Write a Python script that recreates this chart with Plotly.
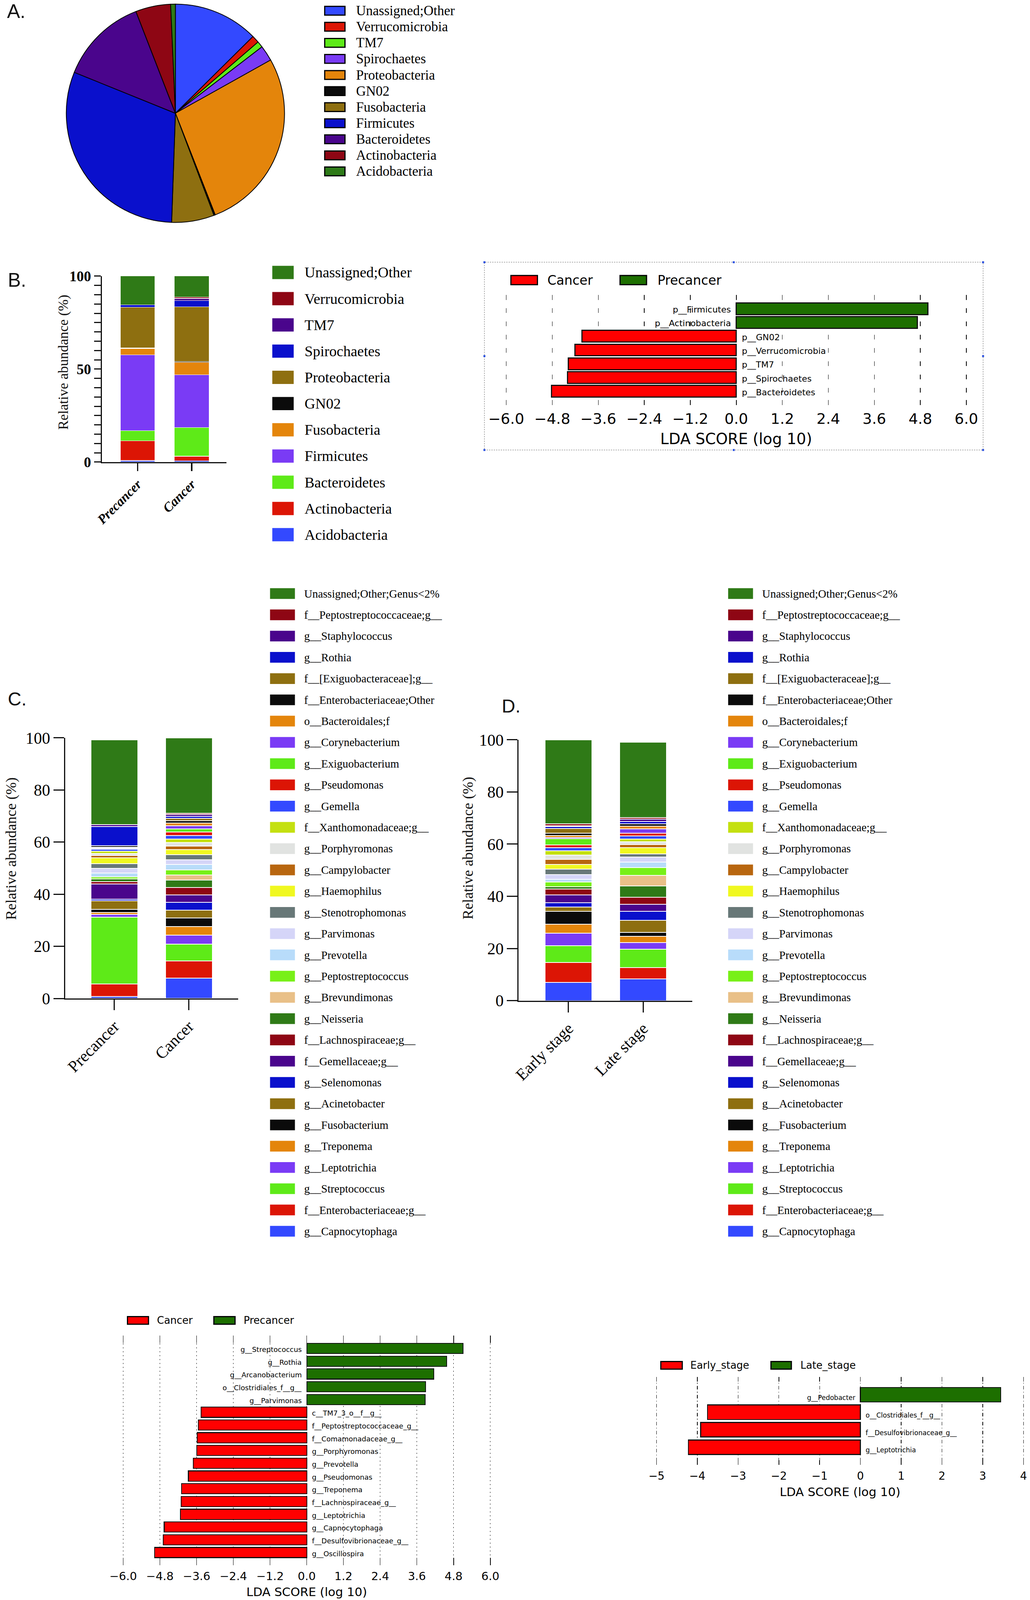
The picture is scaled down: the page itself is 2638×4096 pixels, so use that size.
import plotly.graph_objects as go

# ======================= DATA =======================
# Panel A (pie of phyla, % share)
pie_labels = ["Unassigned;Other", "Verrucomicrobia", "TM7", "Spirochaetes", "Proteobacteria",
              "GN02", "Fusobacteria", "Firmicutes", "Bacteroidetes", "Actinobacteria", "Acidobacteria"]
pie_values = [12.6, 1.1, 0.9, 2.3, 27.2, 0.2, 6.3, 30.6, 13.0, 5.2, 0.7]
pie_colors = ["#3349FF", "#DC1505", "#5EEA18", "#7A3BF5", "#E4850B",
              "#0B0B0B", "#8E6F10", "#0A10CC", "#4A058C", "#8E0614", "#2E7A18"]

# Panel B left: phylum stacked bars (bottom -> top)
phylum_groups = ["Precancer", "Cancer"]
phylum_stack = ["Acidobacteria", "Actinobacteria", "Bacteroidetes", "Firmicutes", "Fusobacteria",
                "GN02", "Proteobacteria", "Spirochaetes", "TM7", "Verrucomicrobia", "Unassigned;Other"]
phylum_colors = ["#3349FF", "#DC1505", "#5EEA18", "#7A3BF5", "#E4850B",
                 "#0B0B0B", "#8E6F10", "#0A10CC", "#4A058C", "#8E0614", "#2F7A17"]
phylum_precancer = [0.8, 10.6, 5.4, 40.9, 3.3, 0.3, 22.0, 1.2, 0.05, 0.05, 15.4]
phylum_cancer = [0.7, 2.4, 15.4, 28.4, 6.7, 0.4, 29.5, 3.4, 1.1, 0.7, 11.3]

# Panel B right: LEfSe phylum
lda_phylum_taxa = ["p__Firmicutes", "p__Actinobacteria", "p__GN02", "p__Verrucomicrobia",
                   "p__TM7", "p__Spirochaetes", "p__Bacteroidetes"]
lda_phylum_scores = [5.00, 4.72, -4.03, -4.21, -4.38, -4.40, -4.82]
lda_phylum_groups = ["Cancer", "Precancer"]

# Panels C / D: genus stacked bars (bottom -> top)
genus_stack = ["g__Capnocytophaga", "f__Enterobacteriaceae;g__", "g__Streptococcus", "g__Leptotrichia",
               "g__Treponema", "g__Fusobacterium", "g__Acinetobacter", "g__Selenomonas",
               "f__Gemellaceae;g__", "f__Lachnospiraceae;g__", "g__Neisseria", "g__Brevundimonas",
               "g__Peptostreptococcus", "g__Prevotella", "g__Parvimonas", "g__Stenotrophomonas",
               "g__Haemophilus", "g__Campylobacter", "g__Porphyromonas", "f__Xanthomonadaceae;g__",
               "g__Gemella", "g__Pseudomonas", "g__Exiguobacterium", "g__Corynebacterium",
               "o__Bacteroidales;f", "f__Enterobacteriaceae;Other", "f__[Exiguobacteraceae];g__",
               "g__Rothia", "g__Staphylococcus", "f__Peptostreptococcaceae;g__", "Unassigned;Other;Genus<2%"]
genus_colors = ["#3349FF", "#DC1505", "#5EEA18", "#7A3BF5",
                "#E4850B", "#0B0B0B", "#8E6F10", "#0A10CC",
                "#4A058C", "#8E0614", "#2F7A17", "#E9C088",
                "#78F018", "#B8DCFA", "#D5D5F8", "#687878",
                "#F0F820", "#B8660F", "#E1E3E1", "#C4E010",
                "#3349FF", "#DC1505", "#5EEA18", "#7A3BF5",
                "#E4850B", "#0B0B0B", "#8E6F10",
                "#0A10CC", "#4A058C", "#8E0614", "#2F7A17"]
genus_groups_c = ["Precancer", "Cancer"]
genus_precancer = [0.71, 4.88, 25.53, 1.10, 0.70, 1.34, 3.26, 0.55, 5.90, 0.93, 0.94, 0.05,
                   0.71, 1.49, 1.85, 1.81, 2.28, 0.78, 0.83, 0.90, 0.75, 0.35, 0.05, 0.05,
                   0.26, 0.56, 0.10, 7.32, 0.68, 0.10, 32.54]
genus_cancer = [7.75, 6.72, 6.33, 3.50, 3.22, 3.32, 3.07, 2.90, 2.91, 2.83, 2.83, 2.01,
                2.00, 1.97, 1.92, 1.89, 1.88, 1.42, 1.41, 1.34, 1.30, 1.29, 1.26, 1.14,
                1.06, 0.95, 0.86, 0.83, 0.66, 0.55, 28.88]
genus_groups_d = ["Early stage", "Late stage"]
genus_early = [6.95, 7.65, 6.51, 4.71, 3.42, 4.94, 1.65, 1.73, 2.90, 2.24, 0.97, 0.05,
               1.76, 1.06, 1.77, 2.08, 1.88, 1.85, 1.72, 1.65, 1.22, 0.98, 2.35, 0.51,
               0.75, 0.82, 1.81, 0.87, 0.30, 0.63, 32.27]
genus_late = [8.32, 4.32, 7.06, 2.55, 2.39, 1.57, 4.56, 3.45, 2.67, 2.67, 4.43, 3.96,
              3.03, 2.19, 1.89, 1.17, 2.40, 1.18, 1.02, 1.09, 1.18, 1.06, 0.05, 1.68,
              1.02, 0.86, 0.05, 0.85, 0.87, 0.62, 28.94]

# Bottom-left: LEfSe genus, Cancer vs Precancer
lda_genus_taxa = ["g__Streptococcus", "g__Rothia", "g__Arcanobacterium", "o__Clostridiales_f__g__",
                  "g__Parvimonas", "c__TM7_3_o__f__g__", "f__Peptostreptococcaceae_g__",
                  "f__Comamonadaceae_g__", "g__Porphyromonas", "g__Prevotella", "g__Pseudomonas",
                  "g__Treponema", "f__Lachnospiraceae_g__", "g__Leptotrichia", "g__Capnocytophaga",
                  "f__Desulfovibrionaceae_g__", "g__Oscillospira"]
lda_genus_scores = [5.11, 4.57, 4.15, 3.88, 3.87, -3.45, -3.54, -3.58, -3.59, -3.71, -3.87,
                    -4.09, -4.10, -4.13, -4.66, -4.69, -4.97]

# Bottom-right: LEfSe stage
lda_stage_taxa = ["g__Pedobacter", "o__Clostridiales_f__g__", "f__Desulfovibrionaceae_g__", "g__Leptotrichia"]
lda_stage_scores = [3.44, -3.75, -3.92, -4.22]
lda_stage_groups = ["Early_stage", "Late_stage"]

# ======================= LAYOUT HELPERS =======================
W, H = 2638, 4096
SW, SH = 1010.0, 1568.0   # reference preview coordinate frame


def fx(v):
    return v / SW


def fy(v):
    return 1 - v / SH


SERIF = "Liberation Serif"
SANS = "DejaVu Sans"
ARIAL = "Liberation Sans"
RED = "#FF0000"
GREEN = "#1D6F00"

fig = go.Figure()
shapes = []
annotations = []

# ---------------- Panel A: pie ----------------
fig.add_trace(go.Pie(labels=pie_labels, values=pie_values, sort=False, direction="clockwise",
                     rotation=0, textinfo="none", showlegend=False,
                     marker=dict(colors=pie_colors, line=dict(color="black", width=2)),
                     domain=dict(x=[fx(65), fx(279)], y=[fy(218), fy(4)])))


def legend_block(x0, x1, xt, y_first, step, sq_h, labels, colors, size, border=None, bw=0):
    for i, (lab, col) in enumerate(zip(labels, colors)):
        yc = y_first + i * step
        shapes.append(dict(type="rect", xref="paper", yref="paper",
                           x0=fx(x0), x1=fx(x1), y0=fy(yc + sq_h / 2), y1=fy(yc - sq_h / 2),
                           fillcolor=col, line=dict(color=border if border else col, width=bw if border else 0)))
        annotations.append(dict(xref="paper", yref="paper", x=fx(xt), y=fy(yc), text=lab,
                                showarrow=False, xanchor="left", yanchor="middle",
                                font=dict(family=SERIF, size=size, color="black")))


legend_block(318.4, 338.3, 348.5, 10.5, 15.75, 8.6, pie_labels, pie_colors, 35, border="black", bw=3)

# ---------------- Panel B left: phylum stacked bars ----------------
for name, col, a, b in zip(phylum_stack, phylum_colors, phylum_precancer, phylum_cancer):
    fig.add_trace(go.Bar(x=phylum_groups, y=[a, b], name=name, width=0.64, showlegend=False,
                         marker=dict(color=col, line=dict(color="white", width=1.2)),
                         xaxis="x", yaxis="y"))
legend_block(267, 288, 298, 267, 25.7, 13, phylum_stack[::-1], phylum_colors[::-1], 38)

# ---------------- Panels C and D ----------------
for name, col, a, b in zip(genus_stack, genus_colors, genus_precancer, genus_cancer):
    fig.add_trace(go.Bar(x=genus_groups_c, y=[a, b], name=name, width=0.63, showlegend=False,
                         marker=dict(color=col, line=dict(color="white", width=2)),
                         xaxis="x3", yaxis="y3"))
for name, col, a, b in zip(genus_stack, genus_colors, genus_early, genus_late):
    fig.add_trace(go.Bar(x=genus_groups_d, y=[a, b], name=name, width=0.63, showlegend=False,
                         marker=dict(color=col, line=dict(color="white", width=2)),
                         xaxis="x4", yaxis="y4"))
legend_block(264.8, 289.2, 297.4, 581.7, 20.83, 10.5, genus_stack[::-1], genus_colors[::-1], 29)
legend_block(714.0, 738.4, 746.6, 581.7, 20.83, 10.5, genus_stack[::-1], genus_colors[::-1], 29)


# ---------------- LDA panels ----------------
def add_lda(taxa, scores, ax, width, lw, label_size, shift, yshift):
    neg = [(t, s) for t, s in zip(taxa, scores) if s < 0]
    pos = [(t, s) for t, s in zip(taxa, scores) if s > 0]
    fig.add_trace(go.Bar(x=[s for _, s in neg], y=[t for t, _ in neg], orientation="h", width=width,
                         marker=dict(color=RED, line=dict(color="#111111", width=lw)),
                         showlegend=False, xaxis="x" + ax, yaxis="y" + ax))
    fig.add_trace(go.Bar(x=[s for _, s in pos], y=[t for t, _ in pos], orientation="h", width=width,
                         marker=dict(color=GREEN, line=dict(color="#111111", width=lw)),
                         showlegend=False, xaxis="x" + ax, yaxis="y" + ax))
    for t, s in zip(taxa, scores):
        annotations.append(dict(xref="x" + ax, yref="y" + ax, x=0, y=t, text=t, showarrow=False,
                                xanchor="right" if s > 0 else "left", yanchor="middle",
                                xshift=-shift if s > 0 else shift, yshift=yshift,
                                font=dict(family=SANS, size=label_size, color="black")))


add_lda(lda_phylum_taxa, lda_phylum_scores, "2", 0.84, 3, 22, 12, -3)
add_lda(lda_genus_taxa, lda_genus_scores, "5", 0.8, 2.2, 18, 11, -3)
add_lda(lda_stage_taxa, lda_stage_scores, "6", 0.825, 2.5, 17, 11, -8)


def lda_legend(x_red0, x_red1, x_t1, x_g0, x_g1, x_t2, yc, h, names, size):
    for (a, b, t, col, nm) in [(x_red0, x_red1, x_t1, RED, names[0]), (x_g0, x_g1, x_t2, GREEN, names[1])]:
        shapes.append(dict(type="rect", xref="paper", yref="paper", x0=fx(a), x1=fx(b),
                           y0=fy(yc + h / 2), y1=fy(yc - h / 2), fillcolor=col,
                           line=dict(color="black", width=3)))
        annotations.append(dict(xref="paper", yref="paper", x=fx(t), y=fy(yc), text=nm, showarrow=False,
                                xanchor="left", yanchor="middle",
                                font=dict(family=SANS, size=size, color="black")))


lda_legend(501, 527, 536, 608, 634, 644, 274.5, 9, lda_phylum_groups, 33)
lda_legend(125, 145.6, 153, 209.7, 230.5, 238, 1294, 7.4, ["Cancer", "Precancer"], 26)
lda_legend(648, 669, 676, 756, 776, 784, 1338, 7.5, lda_stage_groups, 26)

# dotted selection frame around the B LEfSe plot
shapes.append(dict(type="rect", xref="paper", yref="paper", x0=fx(475), x1=fx(964), y0=fy(441), y1=fy(257),
                   line=dict(color="#8A8A8A", width=1.5, dash="dot"), fillcolor="rgba(0,0,0,0)"))
for hx in (475, 719.5, 964):
    for hy in (257, 349, 441):
        if hx == 719.5 and hy == 349:
            continue
        shapes.append(dict(type="rect", xref="paper", yref="paper",
                           x0=fx(hx) - 2.5 / W, x1=fx(hx) + 2.5 / W, y0=fy(hy) - 2.5 / H, y1=fy(hy) + 2.5 / H,
                           fillcolor="#2A50E0", line=dict(width=0)))

# ---------------- text labels ----------------
for txt, x, y, size in [("A.", 16, 11, 50), ("B.", 16.5, 274.5, 50), ("C.", 17, 685, 48), ("D.", 501, 692, 48)]:
    annotations.append(dict(xref="paper", yref="paper", x=fx(x), y=fy(y), text=txt, showarrow=False,
                            xanchor="center", yanchor="middle",
                            font=dict(family=ARIAL, size=size, color="#111111")))

for x, y, size in [(62, 355, 36), (11, 831.6, 38), (459, 831, 38)]:
    annotations.append(dict(xref="paper", yref="paper", x=fx(x), y=fy(y), text="Relative abundance (%)",
                            showarrow=False, textangle=-90, xanchor="center", yanchor="middle",
                            font=dict(family=SERIF, size=size, color="#111111")))

for x, y, size in [(722, 430, 39), (300.8, 1560, 31), (823.8, 1462, 31)]:
    annotations.append(dict(xref="paper", yref="paper", x=fx(x), y=fy(y), text="LDA SCORE (log 10)",
                            showarrow=False, xanchor="center", yanchor="middle",
                            font=dict(family=SANS, size=size, color="black")))

# ---------------- axes ----------------
common_off = dict(showgrid=False, zeroline=False)
stack_y_ticks = list(range(0, 101, 5))

layout_axes = dict(
    # B stacked bars
    xaxis=dict(domain=[fx(100), fx(222)], anchor="y", type="category", categoryorder="array",
               categoryarray=phylum_groups, range=[-0.66, 1.64], showline=True, linecolor="#111111",
               linewidth=3.5, ticks="outside", ticklen=20, tickwidth=3.5, tickcolor="#111111",
               tickangle=-45, tickfont=dict(family=SERIF, size=34, color="black", weight="bold", style="italic"),
               **common_off),
    yaxis=dict(domain=[fy(452.8), fy(270.6)], anchor="x", range=[0, 100], tickmode="array",
               tickvals=stack_y_ticks, ticktext=[str(v) if v in (0, 50, 100) else "" for v in stack_y_ticks],
               showline=True, linecolor="#111111", linewidth=3.5, ticks="outside", ticklen=17, tickwidth=3,
               tickcolor="#111111", tickfont=dict(family=SERIF, size=37, color="black", weight="bold"),
               **common_off),
    # B LEfSe
    xaxis2=dict(domain=[fx(488.9), fx(955.1)], anchor="y2", range=[-6.2, 6.2], tick0=0, dtick=1.2,
                tickformat=".1f", ticks="inside", ticklen=13, tickwidth=1.5, tickcolor="black",
                mirror="ticks", showline=False, showgrid=True, gridcolor="black", gridwidth=1.3,
                griddash="12px,22px", zeroline=False, ticklabelstandoff=9,
                tickfont=dict(family=SANS, size=38, color="black")),
    yaxis2=dict(domain=[fy(397), fy(289)], anchor="x2", type="category", categoryorder="array",
                categoryarray=lda_phylum_taxa, range=[len(lda_phylum_taxa), -1], showticklabels=False,
                ticks="", **common_off),
    # C
    xaxis3=dict(domain=[fx(63.9), fx(233.5)], anchor="y3", type="category", categoryorder="array",
                categoryarray=genus_groups_c, range=[-0.66, 1.66], showline=True, linecolor="#111111",
                linewidth=3, ticks="outside", ticklen=27, tickwidth=3, tickcolor="#111111", tickangle=-45,
                tickfont=dict(family=SERIF, size=42, color="black"), **common_off),
    yaxis3=dict(domain=[fy(978.5), fy(723.1)], anchor="x3", range=[0, 100], dtick=20, tick0=0,
                showline=True, linecolor="#111111", linewidth=3, ticks="outside", ticklen=27, tickwidth=3,
                tickcolor="#111111", tickfont=dict(family=SERIF, size=42, color="black"), **common_off),
    # D
    xaxis4=dict(domain=[fx(508.6), fx(679)], anchor="y4", type="category", categoryorder="array",
                categoryarray=genus_groups_d, range=[-0.667, 1.66], showline=True, linecolor="#111111",
                linewidth=3, ticks="outside", ticklen=27, tickwidth=3, tickcolor="#111111", tickangle=-45,
                tickfont=dict(family=SERIF, size=42, color="black"), **common_off),
    yaxis4=dict(domain=[fy(980.6), fy(725)], anchor="x4", range=[0, 100], dtick=20, tick0=0,
                showline=True, linecolor="#111111", linewidth=3, ticks="outside", ticklen=27, tickwidth=3,
                tickcolor="#111111", tickfont=dict(family=SERIF, size=42, color="black"), **common_off),
    # bottom-left LEfSe
    xaxis5=dict(domain=[fx(114.8), fx(486.8)], anchor="y5", range=[-6.2, 6.2], tick0=0, dtick=1.2,
                tickformat=".1f", ticks="inside", ticklen=19, tickwidth=1.5, tickcolor="black",
                mirror="ticks", showline=False, showgrid=True, gridcolor="black", gridwidth=1.3,
                griddash="3px,7px", zeroline=False, ticklabelstandoff=8,
                tickfont=dict(family=SANS, size=29, color="black")),
    yaxis5=dict(domain=[fy(1534), fy(1309)], anchor="x5", type="category", categoryorder="array",
                categoryarray=lda_genus_taxa, range=[len(lda_genus_taxa), -1], showticklabels=False,
                ticks="", **common_off),
    # bottom-right LEfSe
    xaxis6=dict(domain=[fx(637.8), fx(1007.6)], anchor="y6", range=[-5.15, 4.1], tick0=0, dtick=1,
                ticks="inside", ticklen=12, tickwidth=1.5, tickcolor="black",
                mirror="ticks", showline=False, showgrid=True, gridcolor="black", gridwidth=1.3,
                griddash="9px,6px,2px,6px", zeroline=False, ticklabelstandoff=9,
                tickfont=dict(family=SANS, size=28, color="black")),
    yaxis6=dict(domain=[fy(1435.5), fy(1349.6)], anchor="x6", type="category", categoryorder="array",
                categoryarray=lda_stage_taxa, range=[len(lda_stage_taxa), -1], showticklabels=False,
                ticks="", **common_off),
)

fig.update_layout(width=W, height=H, margin=dict(l=0, r=0, t=0, b=0, pad=0, autoexpand=False),
                  paper_bgcolor="white", plot_bgcolor="rgba(0,0,0,0)", barmode="stack", bargap=0,
                  showlegend=False, shapes=shapes, annotations=annotations, **layout_axes)

fig.write_html("out.html", config={"displayModeBar": False, "staticPlot": True},
               post_script="document.body.style.margin='0';document.body.style.overflow='hidden';")
